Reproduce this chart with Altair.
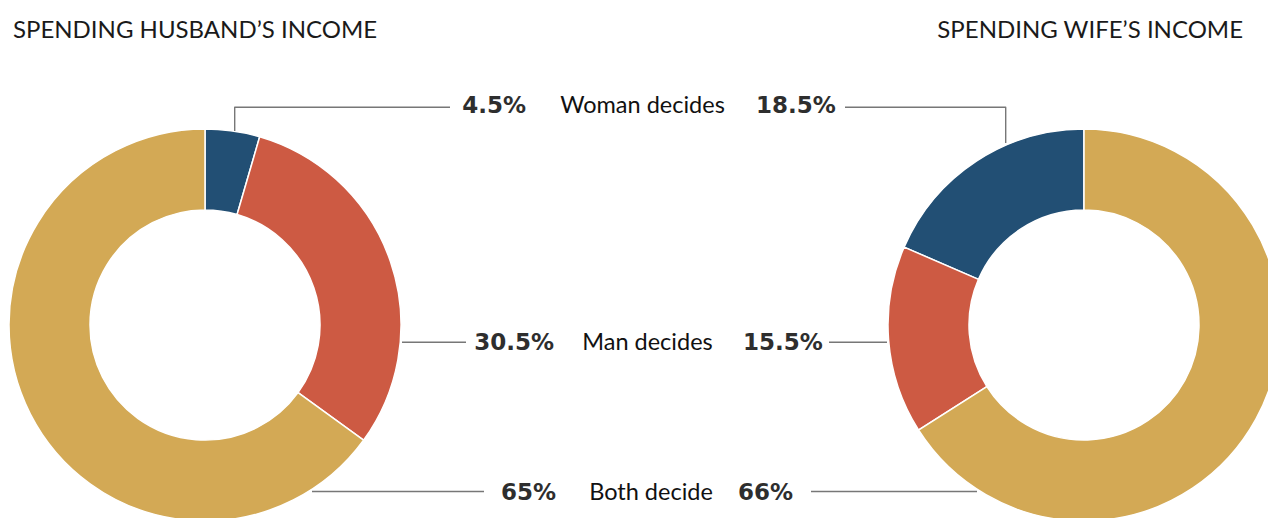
import altair as alt
import pandas as pd

# ---- data ----
categories = ["Woman decides", "Man decides", "Both decide"]
husband_pct = [4.5, 30.5, 65]
wife_pct = [18.5, 15.5, 66]
panels = ["husband", "wife"]
panel_titles = ["SPENDING HUSBAND\u2019S INCOME", "SPENDING WIFE\u2019S INCOME"]
colors = ["#224F74", "#CD5A43", "#D3A955"]

# ---- layout (page pixels; page margin is 8px) ----
M = 8
W, H = 1260, 510
CENTER_X = {"husband": 205, "wife": 1084}
CENTER_Y = 325
R_OUT, R_IN = 196, 115
ROW_Y = {"Woman decides": 112.5, "Man decides": 349.5, "Both decide": 499.5}
LEFT_PCT_END = {"Woman decides": 526, "Man decides": 554, "Both decide": 556}
LABEL_MID = {"Woman decides": 642.5, "Man decides": 647.5, "Both decide": 651}
RIGHT_PCT_START = {"Woman decides": 756, "Man decides": 743, "Both decide": 738}
TITLE_POS = {"husband": (13, 38, "left"), "wife": (1243, 38, "right")}
CONNECTORS = {
    "lw": [(234.7, 131), (234.7, 107.3), (450, 107.3)],
    "rw": [(845, 107.3), (1005.7, 107.3), (1005.7, 143)],
    "lm": [(402, 342.3), (466, 342.3)],
    "rm": [(829, 342.3), (887, 342.3)],
    "lb": [(312, 491.5), (484, 491.5)],
    "rb": [(811, 491.5), (977, 491.5)],
}
FONT = "Lato"
PCT_FONT = "DejaVu Sans"

# ---- tables built from the arrays ----
arc_rows = []
for i, c in enumerate(categories):
    arc_rows.append({"panel": "husband", "category": c, "value": husband_pct[i], "ord": i})
    arc_rows.append({"panel": "wife", "category": c, "value": wife_pct[i], "ord": -i})
arcs = pd.DataFrame(arc_rows)


def fmt(v):
    return f"{v:g}%"


left_txt = pd.DataFrame({
    "text": [fmt(v) for v in husband_pct],
    "px": [LEFT_PCT_END[c] - M for c in categories],
    "py": [ROW_Y[c] - M for c in categories],
})
mid_txt = pd.DataFrame({
    "text": categories,
    "px": [LABEL_MID[c] - M for c in categories],
    "py": [ROW_Y[c] - M for c in categories],
})
right_txt = pd.DataFrame({
    "text": [fmt(v) for v in wife_pct],
    "px": [RIGHT_PCT_START[c] - M for c in categories],
    "py": [ROW_Y[c] - M for c in categories],
})

conn_rows = []
for k, pts in CONNECTORS.items():
    for j, (x, y) in enumerate(pts):
        conn_rows.append({"seg": k, "i": j, "px": x - M, "py": y - M})
conn = pd.DataFrame(conn_rows)

color_scale = alt.Scale(domain=categories, range=colors)


def donut(panel):
    return (
        alt.Chart(arcs)
        .transform_filter(alt.datum.panel == panel)
        .mark_arc(stroke="white", strokeWidth=1.5)
        .encode(
            theta=alt.Theta("value:Q", stack=True),
            order=alt.Order("ord:Q"),
            color=alt.Color("category:N", scale=color_scale, legend=None),
            x=alt.value(CENTER_X[panel] - M),
            y=alt.value(CENTER_Y - M),
            radius=alt.value(R_OUT),
            radius2=alt.value(R_IN),
        )
    )


XI = alt.X("px:Q", scale=None, axis=None)
YI = alt.Y("py:Q", scale=None, axis=None)

lines = (
    alt.Chart(conn)
    .mark_line(color="#777777", strokeWidth=1.4, strokeJoin="round")
    .encode(x=XI, y=YI, detail="seg:N", order="i:Q")
)


def text_layer(df, align, font, size, bold, color):
    return (
        alt.Chart(df)
        .mark_text(
            align=align,
            baseline="alphabetic",
            font=font,
            fontSize=size,
            fontWeight="bold" if bold else "normal",
            color=color,
        )
        .encode(x=XI, y=YI, text="text:N")
    )


titles = []
for p, t in zip(panels, panel_titles):
    tx, ty, al = TITLE_POS[p]
    titles.append(
        alt.Chart(pd.DataFrame({"text": [t]}))
        .mark_text(align=al, baseline="alphabetic", font=FONT, fontSize=24, color="#1a1a1a")
        .encode(x=alt.value(tx - M), y=alt.value(ty - M), text="text:N")
    )

chart = (
    alt.layer(
        donut("husband"),
        donut("wife"),
        lines,
        text_layer(left_txt, "right", PCT_FONT, 23, True, "#2e2e2e"),
        text_layer(mid_txt, "center", FONT, 23.5, False, "#111111"),
        text_layer(right_txt, "left", PCT_FONT, 23, True, "#2e2e2e"),
        *titles,
    )
    .properties(width=W, height=H, autosize=alt.AutoSizeParams(type="none"), padding=0)
    .configure_view(stroke=None)
)

chart.save("out.html", embed_options={"renderer": "svg", "actions": False})
